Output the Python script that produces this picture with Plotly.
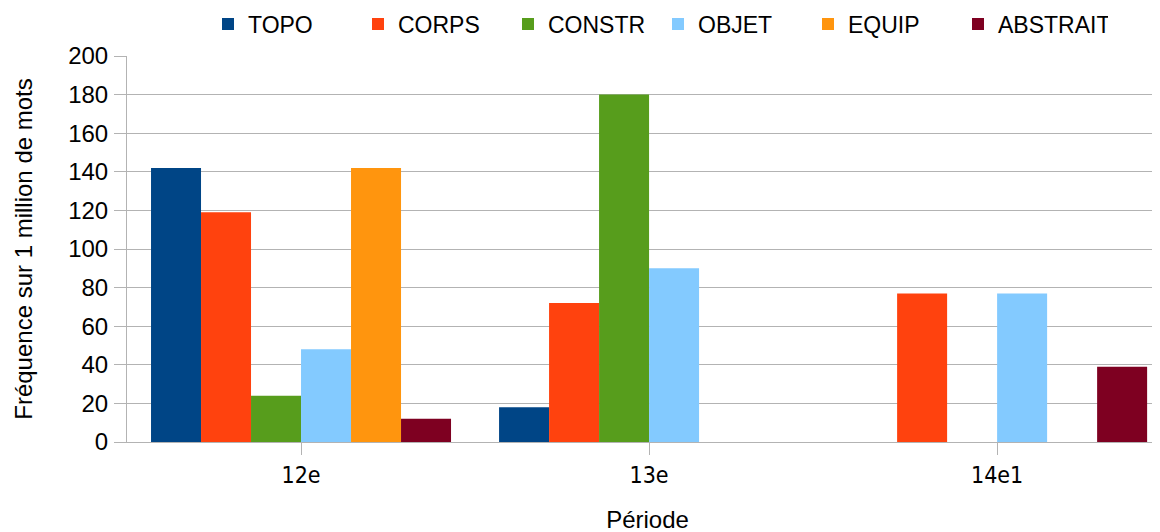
import plotly.graph_objects as go

periods = ["12e", "13e", "14e1"]
series_names = ["TOPO", "CORPS", "CONSTR", "OBJET", "EQUIP", "ABSTRAIT"]
topo = [142, 18, 0]
corps = [119, 72, 77]
constr = [24, 180, 0]
objet = [48, 90, 77]
equip = [142, 0, 0]
abstrait = [12, 0, 39]
colors = ["#004586", "#ff420e", "#579d1c", "#83caff", "#ff950e", "#7e0021"]
y_ticks = [0, 20, 40, 60, 80, 100, 120, 140, 160, 180, 200]

values = [topo, corps, constr, objet, equip, abstrait]

fig = go.Figure()
for name, vals, col in zip(series_names, values, colors):
    fig.add_trace(go.Bar(x=list(range(len(periods))), y=vals, name=name,
                         marker=dict(color=col, line=dict(width=0))))

GRID = "#b3b3b3"
xr = [-0.5, 2.491]
fig.update_layout(
    width=1160, height=532,
    margin=dict(l=119, r=0, t=48, b=98, autoexpand=False),
    paper_bgcolor="white", plot_bgcolor="white",
    font=dict(family="Liberation Sans, Arial, sans-serif", size=24, color="black"),
    barmode="group", bargap=0.138, bargroupgap=0,
    showlegend=True,
    legend=dict(orientation="h", x=200 / 1160, xanchor="left", xref="container",
                y=1 - 16 / 532, yanchor="middle", yref="container",
                font=dict(size=23), entrywidth=105, traceorder="normal",
                itemclick=False),
    xaxis=dict(range=xr, tickmode="array", tickvals=[0, 1, 2], ticktext=periods,
               showgrid=False, showline=True, linecolor=GRID, linewidth=1,
               ticks="outside", ticklen=12, tickcolor=GRID, tickson="boundaries",
               tickfont=dict(family="DejaVu Sans Condensed, DejaVu Sans", size=23),
               title=dict(text="Période", standoff=24, font=dict(size=24)),
               zeroline=False, automargin=False),
    xaxis2=dict(range=xr, overlaying="x", anchor="y", side="bottom",
                tickmode="array", tickvals=[-0.5, 0.5, 1.5], showticklabels=False,
                ticks="inside", ticklen=11, tickcolor=GRID, showgrid=False,
                showline=False, zeroline=False, automargin=False),
    yaxis=dict(range=[0, 200], tickmode="array", tickvals=y_ticks,
               showgrid=True, gridcolor=GRID, gridwidth=1,
               showline=True, linecolor=GRID, linewidth=1,
               ticks="outside", ticklen=12, tickcolor=GRID,
               tickfont=dict(size=24), ticklabelstandoff=1,
               title=dict(text="Fréquence sur 1 million de mots", standoff=28,
                          font=dict(size=24)),
               zeroline=False, automargin=False),
)
fig.write_html("out.html")
